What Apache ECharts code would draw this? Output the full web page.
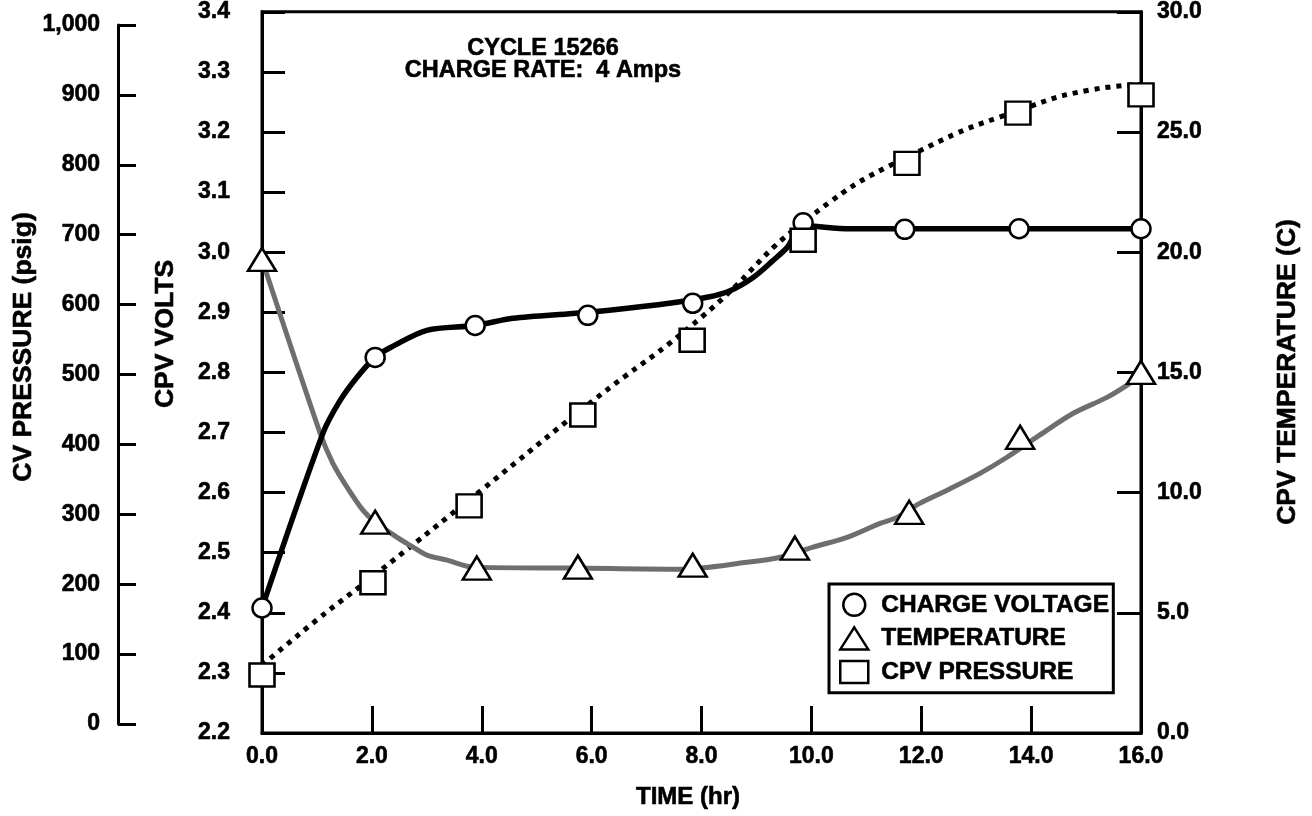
<!DOCTYPE html>
<html><head><meta charset="utf-8">
<script src="https://cdn.jsdelivr.net/npm/echarts@6/dist/echarts.min.js"></script>
<style>html,body{margin:0;padding:0;background:#fff}#c{width:1312px;height:816px}</style>
</head><body><div id="c"></div>
<script>
const FONT = '"Liberation Sans", Arial, sans-serif';
// CHARGE VOLTAGE (CPV VOLTS) — circle markers
const voltTime = [0, 2.06, 3.88, 5.93, 7.84, 9.85, 11.70, 13.78, 16];
const voltValues = [2.408, 2.825, 2.878, 2.895, 2.915, 3.049, 3.038, 3.039, 3.039];
// solid voltage curve
const voltCurveTime = [0, 1.11, 1.42, 1.73, 2.06, 2.33, 3.0, 3.88, 4.57, 5.66, 6.28, 7.48, 8.10, 8.52, 8.94, 9.30, 9.56, 9.85, 10.7, 16];
const voltCurveValues = [2.408, 2.699, 2.753, 2.792, 2.825, 2.841, 2.870, 2.878, 2.890, 2.898, 2.903, 2.916, 2.925, 2.936, 2.958, 2.986, 3.008, 3.044, 3.039, 3.039];
// TEMPERATURE (C) — triangle markers
const tempTime = [0, 2.06, 3.91, 5.75, 7.84, 9.70, 11.78, 13.80, 16];
const tempValues = [19.7, 8.77, 6.86, 6.9, 6.98, 7.69, 9.18, 12.3, 15.0];
// grey temperature curve
const tempCurveTime = [0, 1.06, 1.29, 1.55, 1.84, 2.06, 2.46, 2.75, 3.0, 3.37, 3.84, 5.66, 7.61, 8.83, 9.43, 10.03, 10.65, 11.25, 11.56, 11.98, 12.47, 13.07, 13.56, 14.16, 14.76, 15.38, 15.74, 16];
const tempCurveValues = [19.7, 12.46, 11.22, 10.22, 9.26, 8.77, 8.14, 7.73, 7.40, 7.19, 6.90, 6.86, 6.81, 7.10, 7.31, 7.73, 8.14, 8.72, 8.97, 9.56, 10.1, 10.8, 11.47, 12.4, 13.29, 13.96, 14.46, 14.9];
// CPV PRESSURE (psig) — square markers
const presTime = [0, 2.02, 3.77, 5.84, 7.83, 9.85, 11.74, 13.76, 16];
const presValues = [70, 202, 312, 442, 549, 692, 802, 874, 900];
// dotted pressure curve
const presCurveTime = [0, 1, 2, 4, 6, 8, 10, 12, 14, 15, 16];
const presCurveValues = [84, 149, 210, 335, 461, 582, 727, 821, 884, 906, 915];
// tick labels and texts
const pressureTickLabels = ['0','100','200','300','400','500','600','700','800','900','1,000'];
const titleLines = ['CYCLE 15266', 'CHARGE RATE:  4 Amps'];
const legendNames = ['CHARGE VOLTAGE', 'TEMPERATURE', 'CPV PRESSURE'];

const pairs = (xs, ys) => xs.map((x, i) => [x, ys[i]]);
const black = '#000';
const heavy = {textBorderColor: black, textBorderWidth: 0.6};
const tickFont = Object.assign({fontSize: 23, fontWeight: 'bold', fontFamily: FONT, color: black}, heavy);
const axLine = {show: true, onZero: false, lineStyle: {color: black, width: 3}};
const markerStyle = {color: '#fff', borderColor: black, borderWidth: 2.5, opacity: 1};
const txt = (text, x, y, size, rot) => ({type: 'text', x: x, y: y, rotation: rot || 0,
  style: {text: text, align: 'center', verticalAlign: 'middle', fontSize: size, fontWeight: 'bold', fontFamily: FONT, fill: black, stroke: black, lineWidth: 0.6}});

const chart = echarts.init(document.getElementById('c'), null, {renderer: 'canvas'});
chart.setOption({
  animation: false,
  backgroundColor: '#fff',
  grid: [
    {left: 262, right: 171, top: 11, bottom: 83, show: true, borderColor: black, borderWidth: 3, backgroundColor: 'transparent'},
    {left: 262, right: 171, top: 25, bottom: 92}
  ],
  xAxis: [
    {type: 'value', gridIndex: 0, min: 0, max: 16, interval: 2,
     axisLine: axLine, axisTick: {inside: true, length: 27, lineStyle: {color: black, width: 3}},
     axisLabel: Object.assign({margin: 12, formatter: v => v.toFixed(1)}, tickFont),
     splitLine: {show: false}},
    {type: 'value', gridIndex: 1, min: 0, max: 16, show: false}
  ],
  yAxis: [
    {type: 'value', gridIndex: 0, position: 'left', min: 2.2, max: 3.4, interval: 0.1,
     axisLine: axLine, axisTick: {inside: true, length: 23, lineStyle: {color: black, width: 3}},
     axisLabel: Object.assign({margin: 32, formatter: v => v.toFixed(1)}, tickFont),
     splitLine: {show: false}},
    {type: 'value', gridIndex: 0, position: 'right', min: 0, max: 30, interval: 5,
     axisLine: axLine, axisTick: {inside: true, length: 24, lineStyle: {color: black, width: 3}},
     axisLabel: Object.assign({margin: 16, formatter: v => v.toFixed(1)}, tickFont),
     splitLine: {show: false}},
    {type: 'value', gridIndex: 1, position: 'left', offset: 144, min: 0, max: 1000, interval: 100,
     axisLine: axLine, axisTick: {inside: true, length: 18, lineStyle: {color: black, width: 3}},
     axisLabel: Object.assign({margin: 18, formatter: v => pressureTickLabels[Math.round(v / 100)]}, tickFont),
     splitLine: {show: false}}
  ],
  legend: {
    orient: 'vertical', left: 829, top: 584, padding: [8, 4, 8, 10], itemGap: 8,
    itemWidth: 28, itemHeight: 22, borderColor: black, borderWidth: 3, selectedMode: false,
    textStyle: Object.assign({fontSize: 24.5, fontWeight: 'bold', fontFamily: FONT, color: black, padding: [0, 0, 0, 8]}, heavy),
    data: [
      {name: legendNames[0], icon: 'circle', itemStyle: markerStyle},
      {name: legendNames[1], icon: 'triangle', itemStyle: markerStyle},
      {name: legendNames[2], icon: 'rect', itemStyle: markerStyle}
    ]
  },
  graphic: [
    txt(titleLines[0], 543, 48.5, 23.5),
    txt(titleLines[1], 543, 70.5, 23.5),
    txt('CV PRESSURE (psig)', 24, 347, 26.5, Math.PI / 2),
    txt('CPV VOLTS', 166, 334, 26.5, Math.PI / 2),
    txt('CPV TEMPERATURE (C)', 1288, 372, 26.5, Math.PI / 2),
    txt('TIME (hr)', 688, 797, 24)
  ],
  series: [
    {name: 'CPV PRESSURE curve', type: 'line', xAxisIndex: 1, yAxisIndex: 2, z: 2, silent: true,
     data: pairs(presCurveTime, presCurveValues), smooth: 0.5, showSymbol: false,
     lineStyle: {color: black, width: 5, type: [5, 6]}},
    {name: 'TEMPERATURE curve', type: 'line', xAxisIndex: 0, yAxisIndex: 1, z: 3, silent: true,
     data: pairs(tempCurveTime, tempCurveValues), smooth: 0.3, showSymbol: false,
     lineStyle: {color: '#6e6e6e', width: 5}},
    {name: 'CHARGE VOLTAGE curve', type: 'line', xAxisIndex: 0, yAxisIndex: 0, z: 4, silent: true,
     data: pairs(voltCurveTime, voltCurveValues), smooth: 0.3, showSymbol: false,
     lineStyle: {color: black, width: 5.5}},
    {name: legendNames[1], type: 'scatter', xAxisIndex: 0, yAxisIndex: 1, z: 5,
     data: pairs(tempTime, tempValues), symbol: 'triangle', symbolSize: [28, 23], itemStyle: markerStyle},
    {name: legendNames[0], type: 'scatter', xAxisIndex: 0, yAxisIndex: 0, z: 6,
     data: pairs(voltTime, voltValues), symbol: 'circle', symbolSize: 19, itemStyle: markerStyle},
    {name: legendNames[2], type: 'scatter', xAxisIndex: 1, yAxisIndex: 2, z: 7,
     data: pairs(presTime, presValues), symbol: 'rect', symbolSize: [25, 23], itemStyle: markerStyle}
  ]
});
</script></body></html>
